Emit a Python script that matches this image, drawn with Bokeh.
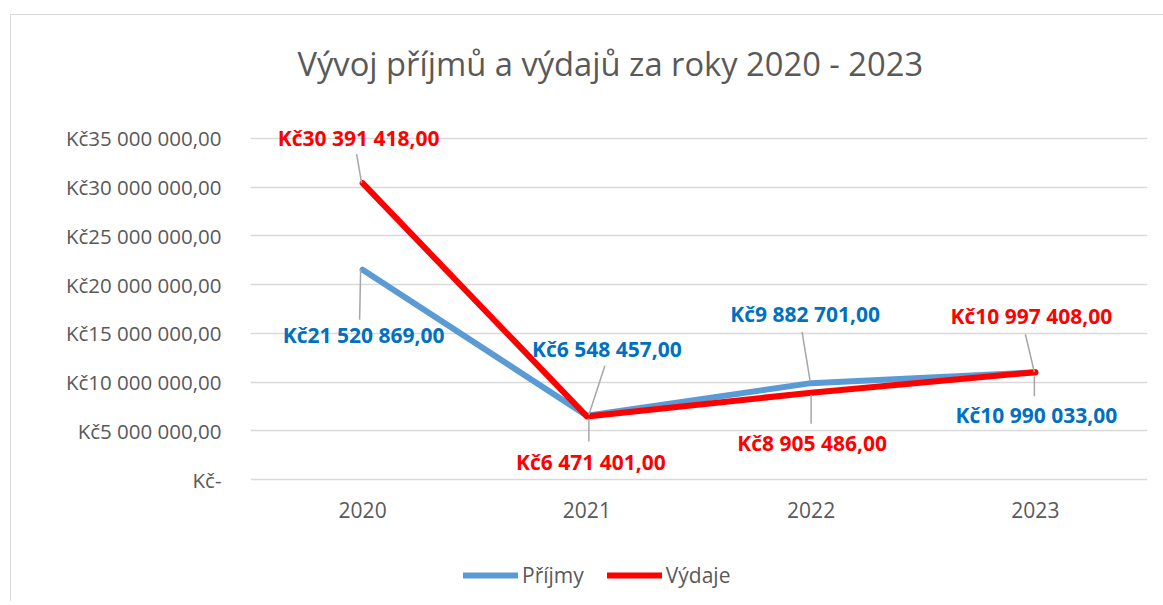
from bokeh.plotting import figure
from bokeh.models import (ColumnDataSource, Range1d, FixedTicker, Legend, LegendItem)
from bokeh.core.properties import value
from bokeh.embed import file_html
from bokeh.resources import INLINE

# ---- data ----
years = ["2020", "2021", "2022", "2023"]
prijmy = [21520869.00, 6548457.00, 9882701.00, 10990033.00]
vydaje = [30391418.00, 6471401.00, 8905486.00, 10997408.00]
y_ticks = [0, 5000000, 10000000, 15000000, 20000000, 25000000, 30000000, 35000000]
title_text = "Vývoj příjmů a výdajů za roky 2020 - 2023"


def fmt(v):
    if v == 0:
        return "Kč-"
    return "Kč" + f"{v:,.2f}".replace(",", " ").replace(".", ",")


FONT = "Open Sans"
GREY_TXT = "#595959"
BLUE = "#5B9BD5"
BLUE_TXT = "#0070C0"
RED = "#FF0000"

# layout constants (pixels)
ML, MR, MT = 239, 17, 74
FW = 897
PLOT_H = 390          # pixels between value 0 and Y_END
EXTRA_H = 122         # frame space below value 0 (x labels + legend)
FH = PLOT_H + EXTRA_H
Y_END = 40000000
px_x = FW / 4.0
px_y = PLOT_H / Y_END
Y_START = -EXTRA_H / px_y

xs = list(range(len(years)))

p = figure(frame_width=FW, frame_height=FH, output_backend="svg", toolbar_location=None,
           x_range=Range1d(-0.5, 3.5), y_range=Range1d(Y_START, Y_END),
           min_border_left=ML, min_border_right=MR, min_border_top=MT,
           min_border_bottom=0, background_fill_color="white",
           border_fill_color="white", outline_line_color=None)
p.margin = (14, 0, 0, 10)
p.styles = {"border-top": "1px solid #D9D9D9", "border-left": "1px solid #D9D9D9"}

# title
p.title.text = title_text
p.title.text_font = FONT
p.title.text_font_size = "32.7px"
p.title.text_font_style = "normal"
p.title.text_color = GREY_TXT
p.title.align = "left"
p.title.offset = 47
p.title.standoff = 8

# axes
p.xaxis.ticker = FixedTicker(ticks=xs)
p.xaxis.major_label_overrides = {i: y for i, y in enumerate(years)}
p.xaxis.fixed_location = 0
p.yaxis.ticker = FixedTicker(ticks=y_ticks)
p.yaxis.major_label_overrides = {t: fmt(t) for t in y_ticks}
for ax in (p.xaxis, p.yaxis):
    ax.axis_line_color = None
    ax.major_tick_line_color = None
    ax.minor_tick_line_color = None
    ax.major_label_text_font = FONT
    ax.major_label_text_color = GREY_TXT
p.yaxis.major_label_text_font_size = "20.5px"
p.xaxis.major_label_text_font_size = "21px"
p.yaxis.major_label_standoff = 23
p.xaxis.major_label_standoff = 16

p.xgrid.grid_line_color = None
p.ygrid.ticker = FixedTicker(ticks=y_ticks)
p.ygrid.grid_line_color = "#D9D9D9"
p.ygrid.grid_line_width = 1.5

# lines
r_p = p.line(xs, prijmy, line_color=BLUE, line_width=6, line_cap="round", line_join="round")
r_v = p.line(xs, vydaje, line_color=RED, line_width=6, line_cap="round", line_join="round")

# data labels: offsets (px, up positive) for label centre and leader lines
lab_p = [(1, -65), (20, 67), (-6, 69), (1, -43)]
lead_p = [((-3, -50), (-2, 0)), ((2, 1), (18, 50)), ((-1, 2), (-9, 51)), ((-1, -4), (-1, -24))]
lab_v = [(-4, 45), (4, -46), (1, -50), (-4, 56)]
lead_v = [((-1, 0), (-6, 29)), ((2, -2), (2, -25)), ((0, -2), (0, -31)), ((-1, 0), (-10, 38))]


def add_labels(vals, labs, leads, color):
    x0, y0, x1, y1 = [], [], [], []
    for i, v in enumerate(vals):
        (a, b), (c, d) = leads[i]
        x0.append(xs[i] + a / px_x)
        y0.append(v + b / px_y)
        x1.append(xs[i] + c / px_x)
        y1.append(v + d / px_y)
    p.segment(x0, y0, x1, y1, line_color="#A6A6A6", line_width=1.5)
    src = ColumnDataSource(dict(
        x=xs, y=vals, t=[fmt(v) for v in vals],
        dx=[l[0] for l in labs], dy=[-l[1] for l in labs]))
    p.text("x", "y", text="t", source=src, x_offset="dx", y_offset="dy",
           text_align="center", text_baseline="middle",
           text_font=value(FONT), text_font_size="21px", text_font_style="bold",
           text_color=color)


add_labels(prijmy, lab_p, lead_p, BLUE_TXT)
add_labels(vydaje, lab_v, lead_v, RED)

legend = Legend(items=[LegendItem(label="Příjmy", renderers=[r_p]),
                       LegendItem(label="Výdaje", renderers=[r_v])],
                orientation="horizontal", location=(213, 12),
                glyph_width=55, glyph_height=20, label_standoff=4, spacing=23,
                padding=0, margin=0, border_line_color=None,
                background_fill_alpha=0,
                label_text_font=FONT, label_text_font_size="21px",
                label_text_color=GREY_TXT)
p.add_layout(legend, "center")

open("out.html", "w").write(file_html(p, INLINE))
